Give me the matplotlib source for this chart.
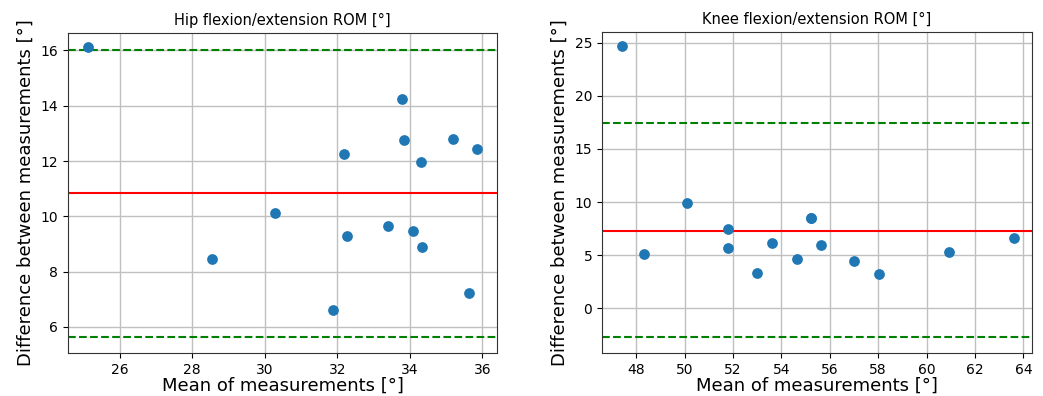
import matplotlib
matplotlib.use('Agg')
import matplotlib.pyplot as plt

# Hip flexion/extension ROM: mean of measurements vs difference
hip_mean = [25.13, 33.78, 33.84, 32.18, 34.30, 35.19, 35.85, 28.54, 30.28, 31.89, 32.28, 33.39, 34.09, 34.34, 35.63]
hip_diff = [16.14, 14.24, 12.75, 12.27, 11.97, 12.79, 12.42, 8.45, 10.14, 6.60, 9.29, 9.66, 9.48, 8.88, 7.23]
hip_bias = 10.84
hip_loa = [5.65, 16.03]

# Knee flexion/extension ROM
knee_mean = [47.41, 48.31, 50.10, 51.80, 51.80, 53.00, 53.59, 54.65, 55.22, 55.22, 55.64, 57.00, 58.05, 60.92, 63.62]
knee_diff = [24.65, 5.15, 9.95, 7.45, 5.72, 3.33, 6.13, 4.64, 8.46, 8.46, 6.01, 4.43, 3.27, 5.32, 6.61]
knee_bias = 7.31
knee_loa = [-2.72, 17.46]

titles = ["Hip flexion/extension ROM [°]", "Knee flexion/extension ROM [°]"]

fig = plt.figure(figsize=(10.43, 3.96), dpi=100)
ax1 = fig.add_axes([0.0652, 0.1086, 0.4113, 0.808])
ax2 = fig.add_axes([0.5772, 0.1086, 0.4123, 0.8106])

panels = [
    (ax1, hip_mean, hip_diff, hip_bias, hip_loa, titles[0]),
    (ax2, knee_mean, knee_diff, knee_bias, knee_loa, titles[1]),
]

for ax, xm, yd, bias, loa, title in panels:
    ax.scatter(xm, yd, s=45, color='#1f77b4', zorder=3)
    ax.axhline(bias, color='red', lw=1.5, zorder=2)
    ax.axhline(loa[0], color='green', ls='--', lw=1.5, zorder=2)
    ax.axhline(loa[1], color='green', ls='--', lw=1.5, zorder=2)
    ax.grid(True, color='#c0c0c0', lw=1.0)
    ax.set_axisbelow(True)
    ax.set_title(title, fontsize=10.5)
    ax.set_xlabel("Mean of measurements [°]", fontsize=13, labelpad=0)
    ax.set_ylabel("Difference between measurements [°]", fontsize=13)
    ax.tick_params(labelsize=10)
    for sp in ax.spines.values():
        sp.set_color('#333333')

ax1.set_xlim(24.58, 36.40)
ax1.set_ylim(5.06, 16.63)
ax1.set_xticks([26, 28, 30, 32, 34, 36])
ax1.set_yticks([6, 8, 10, 12, 14, 16])

ax2.set_xlim(46.58, 64.36)
ax2.set_ylim(-4.19, 26.0)
ax2.set_xticks(range(48, 65, 2))
ax2.set_yticks([0, 5, 10, 15, 20, 25])

fig.savefig('out.png', dpi=100)
